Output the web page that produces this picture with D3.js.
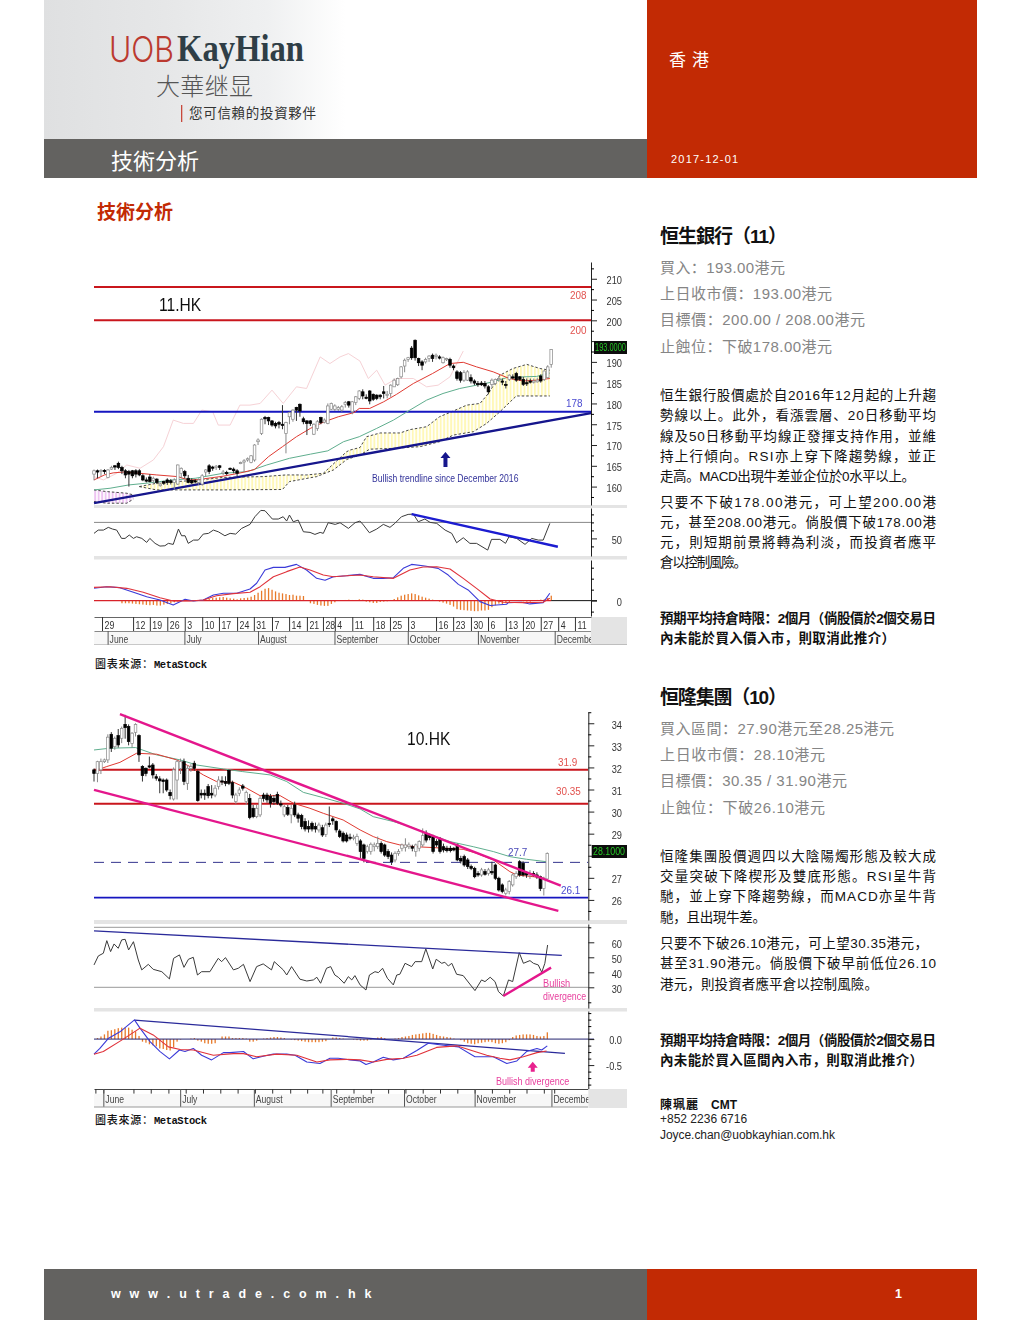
<!DOCTYPE html>
<html><head><meta charset="utf-8">
<script src="https://cdnjs.cloudflare.com/ajax/libs/d3/7.8.5/d3.min.js"></script>
<style>html,body{margin:0;padding:0;background:#fff}svg{display:block}</style></head>
<body><div id="page"></div>
<script>
// ---------- 11.HK ----------  [open, close, high, low] per trading day
const candles1=[[163,163.8,164.1,161.5],[163.8,163.5,164.1,162],[163.6,163.9,164.2,162.5],[163.9,163.6,164.2,163],[162.2,164,164.2,162],[164.2,164.6,165,164],[165,164.7,165.2,164],[165.6,164.6,166,164.2],[164.6,163.8,165,163],[163.8,162.8,164.2,162],[163.6,163,164,160],[163.8,162.6,164,162],[163.8,163,164.2,162.2],[163.8,162.8,164.2,162.5],[162.6,161.6,163,161.3],[161.6,161.4,162.2,161],[162.3,161.2,163,161],[161.5,162,162.4,160.8],[161.8,161,162,160.6],[160.2,160.6,161,160],[161.2,160.8,161.4,160.4],[161.6,161,162,160.4],[161.4,161,161.8,160.5],[161,161.6,162,159.4],[160.6,165.2,165.3,160.4],[163.2,164.4,164.6,162],[163.6,162.6,164,162],[162,161,162.8,160.8],[161.5,160.9,162,160.6],[161.4,161.2,161.8,160.8],[161,161.6,162,160.4],[160.6,162.6,163,160.2],[163.5,164,164.2,162.5],[165,163.6,165.4,163],[164.7,164.7,165,163.8],[164.8,164.9,165.2,164],[165,164.6,165.2,164],[163.2,163.5,164,162.8],[163.4,163.1,163.8,162.8],[164.4,164.2,164.6,164],[164.2,163.8,164.6,163.2],[163.8,163.2,164.2,162.5],[165.6,165.8,166,165.4],[166,166.2,166.6,163.5],[166.4,166.7,167,166],[165.8,167.4,167.6,165.6],[166.4,170,170.2,166],[170.8,171.2,171.6,170],[172.8,176.2,176.4,172.4],[176.6,176.3,177,175],[176.6,175.8,176.8,174.8],[175.8,174.8,176,174.4],[175.2,174.6,175.6,174],[175.4,175,175.8,174],[175,175,179.6,173.8],[172.8,175.4,175.6,168],[176.8,177.8,178,175],[176.2,178.4,178.6,175.6],[179,178.4,179.2,175.8],[179.8,178.2,180,176.8],[176.3,175.6,176.8,175],[175.8,175.2,176,172.4],[175.8,175.2,176,174.6],[172.6,175,175.2,172.4],[174,175.6,176,173.4],[176.6,175.4,176.8,175],[175.5,176,176.4,175.2],[175.2,179.4,180,175],[178.6,180,180.2,178.4],[178.6,179.4,179.8,178.2],[178.6,179,179.4,178.2],[178.4,179.2,179.6,178],[179.8,180.2,180.6,179],[180.4,179.6,180.6,179],[178,180.4,180.6,177.4],[180.2,181.6,181.8,179.6],[181.2,183,183.2,180.8],[182.8,181.8,183.4,181],[181.5,181.5,182.2,181],[183,180.6,183.2,179.8],[182.2,181,182.4,180.6],[182,181.2,182.2,180.8],[182,181.6,182.2,181],[182.8,182.4,184.2,181.2],[182,182.2,183,181.2],[182.4,184.4,184.6,181.6],[184,185.6,186,184],[184.5,186,186.2,184.2],[186.4,188.8,189,186],[189,190.4,190.8,187.5],[190.6,191,191.2,190],[193.3,191,193.8,190.5],[195.2,191,195.4,190.3],[190.8,189.8,191,189],[190,189.2,190.4,188],[190,190.6,191,189.6],[190.8,191.4,191.6,190],[191.6,190.8,192,190],[191.4,191.6,192,190.6],[191.2,191,191.6,190.6],[189.8,191,191.3,189.6],[190.6,190.8,191,190.2],[190.6,189.2,191,188.6],[189,188.6,189.4,188],[187.6,186,188,185.5],[187.4,185.6,187.8,185],[185.6,187.4,188,185.2],[185.6,187.6,188,185.4],[186.2,185.4,187,184.8],[185.4,184.9,185.8,184.4],[184.8,184.6,185.4,184],[184.9,184.5,185.4,184.2],[184.8,184.2,185.4,183.6],[184,182.8,184.4,182.2],[184.6,185.6,186,184],[184.8,185.8,186,184.4],[185.8,186,186.4,185.2],[185.4,185.2,186,184.4],[184.6,184.4,185.4,183.6],[185.8,186.8,187,185.4],[186.4,186.2,187,185.8],[187.2,185.6,187.6,185.2],[186.4,185.8,186.6,185.4],[185.8,184.6,186.4,184.2],[185,184.8,186,184.2],[185.4,185.2,186,184.8],[185.2,185.4,186,184.8],[185.2,185.6,186.2,185],[186.6,185.4,187,185],[185.8,187.8,188,185.4],[186.2,188.8,189.2,186],[189.4,193,193.1,188.6]];
const ma20_1=[[0,161.6],[3,162.8],[5.5,163.3],[8.5,163.5],[13,163.2],[18,162.8],[24,162.4],[27,161.6],[30,161.7],[37,162.5],[42,163.3],[46,164.1],[50,167.2],[54,169.6],[58,172],[62,174],[66,175.6],[70,176.8],[74.5,177.8],[76,178.8],[79,178.8],[83,180.4],[86.7,182.2],[91.5,184.8],[97,187.2],[102,189.6],[105.8,189.9],[109.6,188.8],[114.4,187.6],[119,186],[123,185.4],[126.8,185.6],[130.6,186]];
const ma50_1=[[0,159.2],[4.6,159.6],[10,160.4],[16,160.9],[22.7,161.6],[29,162],[37,163.2],[44,163.6],[49.5,165.2],[56,166.8],[62,167.8],[67,168.6],[71.5,170.8],[76,172],[81,174],[85.8,176],[90.5,178.4],[95.3,180.8],[100,182.4],[104.8,183.6],[109.6,184.4],[114.4,185.2],[118.2,186.2],[123,186.4],[126.8,186.5],[130.6,187.3]];
const lag1=[[0,162.4],[2.7,161.6],[6.5,163.2],[9.4,165.2],[13.2,164.4],[17,166.4],[19.9,169.6],[22.7,176],[25.6,175.2],[28.5,175.2],[30.9,178.4],[34,178],[35.6,174.8],[39,174.8],[41.8,179.6],[44.7,179.6],[47.6,180],[51,183.2],[54.2,180],[58,184],[60.9,183.6],[64.8,191.2],[67.6,189.6],[70.5,191.2],[72.9,192],[76.2,190.2],[78.6,186],[81,188],[83.4,184.4],[86.7,186],[91.5,186],[95.3,184],[98.6,184.4],[102,186.4],[105.8,192.6]];
const cloudPinkTop=[[0,159.2],[3.6,158.8],[9.4,158.4],[11.3,158]];
const cloudPinkBot=[[0,156.4],[3.6,156],[9.4,156],[11.3,157]];
const cloudTop=[[13,160],[17.9,160.8],[23.7,161.2],[30.4,161.6],[37,162.2],[48.5,162.4],[55,162.8],[61,162.8],[65.7,163.2],[72.4,168.4],[73.4,168.8],[76.2,169.4],[78.1,172],[82,172.9],[87.7,172.9],[90.5,173.7],[95.3,174.4],[99,176.8],[103,178.2],[106.8,179.6],[110.6,180],[113,182.4],[116.3,186.8],[120,188.4],[124,189.4],[127.8,188.4],[130.6,188]];
const cloudBot=[[13,160],[17.9,159.2],[23.7,159.2],[37,159.2],[54,159.3],[56,161.2],[63.8,162.4],[68.6,164],[72.4,166.5],[76.2,167.6],[79,169],[85.8,169.2],[93.4,169.6],[99,170.8],[103,172.4],[108.7,173.2],[112.5,175.2],[116.3,178],[121,181.8],[130.6,181.8]];
const trend1=[[0,156.03],[142.4,177.67]];
const levels1=[208,200,178];
const rsi1=[[0,56.3],[1.2,60.4],[2.7,60.4],[4.1,63.8],[5.3,61.7],[6.5,60.4],[7.9,50],[8.9,50],[10.1,54.2],[11.3,50],[12.2,52.1],[13.7,50],[15.1,45],[16,50],[17.5,43.8],[18.9,40.4],[20.3,40.8],[21.3,43.8],[22.7,42.5],[24.2,61.7],[25.1,53.3],[26.1,53.3],[27,43.8],[28.5,47.9],[29.9,47.9],[31.3,55.4],[32.8,56.3],[34.2,60.4],[35.6,58.3],[37.5,53.3],[39,56.3],[40.6,55.4],[42.3,62.5],[44.7,67.5],[46.1,77.1],[47.8,85],[49,84.6],[51.1,74.2],[52.8,74.2],[54.2,77.1],[55.2,71.7],[56,79.2],[57.1,70.8],[58.5,72.9],[60,58.3],[61.9,57.5],[63.3,55],[64.8,57.5],[65.7,56.3],[67.1,69.6],[69.1,67.5],[70.5,69.6],[72.9,62.5],[74.8,69.6],[76.2,71.7],[77.2,66.7],[78.9,57.1],[81,61.7],[82.9,67.5],[84.8,63.8],[86.2,68.8],[88.1,77.1],[90,80],[91.5,80.4],[92.9,70.8],[94.8,74.2],[96.3,70],[98.2,68.8],[100.6,60.4],[102.5,56.3],[103.9,44.6],[105.8,50.8],[107.7,43.8],[109.6,43.8],[112.8,35.4],[113.9,48.8],[116.3,48.8],[117.9,43.8],[118.9,52.1],[121.1,50],[123.5,42.5],[125.4,50],[127.3,47.9],[128.7,47.9],[130.6,68.8]];
const rsiTrend1=[[91,80.4],[132.9,39.6]];
const macd1=[[0,1.12],[3.6,1.27],[7.4,1.18],[11.3,.76],[15.1,.36],[18.9,.06],[22.7,-.39],[26.1,.12],[28.5,-.03],[31.3,.06],[34.2,.52],[37.1,.67],[40.9,.67],[44.7,1.06],[46.6,1.58],[49,2.79],[51.4,3.03],[54.7,3.03],[58,3.3],[60.9,2.79],[63.8,2.03],[66.2,1.85],[68.6,2.18],[72.4,2.27],[76.2,2.39],[80,2.03],[82.9,2.03],[85.8,2.09],[88.6,2.94],[91,3.3],[94.8,3.15],[98.6,2.94],[101.5,2.33],[104.4,1.48],[107.2,.97],[110.6,-.09],[113.5,-.45],[118.2,-.33],[118.7,-.18],[122.5,-.15],[124.9,-.3],[128.7,-.18],[130.6,.67]];
const signal1=[[0,1.21],[4.6,1.27],[9.4,1.12],[14.1,.76],[18.9,.27],[22.7,-.03],[27.5,-.03],[31.3,.06],[35.1,.45],[39.9,.64],[44.7,.76],[47.6,1.27],[51.4,2.18],[55.2,2.64],[59,3.06],[61.9,2.79],[65.7,2.33],[68.6,2.18],[72.4,2.27],[76.2,2.33],[80,2.18],[85.8,2.03],[90.5,2.79],[94.3,3.06],[98.2,3.09],[102,2.88],[105.8,2.03],[109.6,1.12],[113.5,.15],[117.3,-.15],[123,-.18],[128.7,-.15],[130.6,.21]];
const hist1=[0,0,0,0,.03,.03,.03,0,-.24,-.24,-.24,-.27,-.3,-.33,-.36,-.39,-.42,-.39,-.45,-.45,-.36,-.3,-.24,-.15,-.09,0,.03,0,0,0,.03,.06,.12,.18,.24,.27,.3,.33,.27,.21,.18,.12,.21,.24,.27,.36,.51,.72,.9,1.08,1.14,.99,.84,.72,.66,.6,.51,.54,.45,.45,.42,0,-.24,-.3,-.39,-.45,-.48,-.48,-.3,-.15,0,0,.06,.09,.06,.06,.12,.09,-.09,-.15,-.21,-.21,-.12,-.09,-.06,.06,.15,.3,.45,.54,.6,.66,.6,.48,.36,.27,.18,.09,0,-.09,-.18,-.27,-.39,-.54,-.78,-.84,-.87,-.9,-.93,-.96,-.96,-.9,-.9,-.84,-.6,-.42,-.27,-.3,-.24,-.12,0,.03,.03,-.06,-.09,-.09,0,.06,.09,.12,.24,.45];
const weekDays1=[2.3,11.2,16,21,26,31,35.8,41,45.8,51,55.9,61,65.6,69,74,80,84.8,90,98,102.9,108,112.9,118,122.9,128,133,137.8];
const weekLabels1=["29","12","19","26","3","10","17","24","31","7","14","21","28","4","11","18","25","3","16","23","30","6","13","20","27","4","11"];
const monthDays1=[3.9,25.9,47,68.9,89.9,110,132];
const monthLabels=["June","July","August","September","October","November","December"];

// ---------- 10.HK ----------
const candles2=[[31.89,31.73,31.95,31.36],[31.73,32.26,32.3,31.33],[31.89,32.26,32.4,31.7],[32.26,32.34,32.4,32.2],[32.34,33.37,33.5,32.2],[33.5,32.87,33.6,32.7],[32.94,33.32,33.4,32.8],[33.44,33.02,33.74,32.9],[33.32,33.77,33.85,33.1],[33.95,33.8,34.38,33.3],[33.85,33.17,33.95,33],[33.09,33.55,33.6,32.9],[33.59,33.95,34,33.4],[33.44,32.57,33.5,32.25],[32.04,31.63,32.1,31.36],[31.96,31.73,32,31.6],[32.07,32.04,32.49,31.96],[32.11,31.66,32.2,31.5],[31.58,31.51,31.7,31.4],[31.48,31.39,31.6,30.83],[31.43,31.36,31.5,30.83],[31.43,30.98,31.5,30.9],[30.87,30.72,31,30.55],[30.57,31.89,32,30.5],[31.43,32.26,32.35,30.55],[31.96,32.26,32.4,31.7],[32.26,31.36,32.4,31.2],[31.28,31.96,32.1,30.98],[31.96,32.04,32.15,31.8],[32.19,31.96,32.3,31.85],[31.81,30.5,31.9,30.45],[30.83,30.75,31,30.6],[30.83,30.75,31,30.53],[31.13,30.72,31.25,30.6],[30.83,30.75,31.2,30.6],[30.75,31.06,31.2,30.65],[31.13,31.43,31.6,31],[31.39,31.36,31.6,31.2],[31.36,31.28,31.6,31.15],[31.86,31.28,31.9,31.2],[31.31,30.75,31.4,30.6],[30.45,30.75,30.85,30.35],[30.83,30.98,31.1,30.7],[31.16,31.06,31.25,30.95],[30.45,30.87,30.95,30.3],[30.6,29.73,30.8,29.65],[30.15,29.77,30.3,29.7],[29.77,30.15,30.3,29.7],[29.85,30.6,30.7,29.75],[30.75,30.6,30.85,30.45],[30.75,30.53,30.85,30.4],[30.68,30.38,30.8,30.18],[30.6,30.45,30.75,30.3],[30.78,30.38,30.9,30.3],[30.35,30.33,30.5,30.2],[29.85,30.22,30.3,29.75],[30.18,29.88,30.3,29.8],[29.85,30.15,30.3,29.47],[30.3,29.85,30.45,29.75],[29.85,29.7,29.95,29.5],[29.82,29.32,29.9,29.2],[29.55,29.21,29.7,29.1],[29.32,29.21,29.6,29.05],[29.47,29.21,29.55,29.1],[29.32,29.21,29.5,29.05],[29.17,29.39,29.5,29.05],[29.27,28.94,29.4,28.85],[28.97,29.39,29.5,28.85],[29.47,29.46,30.23,29.3],[29.67,29.58,29.75,29.4],[29.55,29.17,29.6,29.05],[29.12,28.87,29.2,28.8],[29.02,28.67,29.1,28.6],[28.94,28.67,29.05,28.6],[28.84,28.82,29,28.7],[28.82,28.84,28.95,28.7],[28.56,28.87,29,28.45],[28.67,28.19,28.75,27.9],[28.49,27.88,28.55,27.7],[28.19,28.41,28.5,28.1],[28.19,28.52,28.6,28.05],[28.41,28.49,28.6,28.2],[28.41,28.56,28.87,28.3],[28.56,28.19,28.65,28.1],[28.49,28.03,28.55,27.95],[28.19,27.96,28.3,27.85],[28.03,27.73,28.15,27.58],[27.81,28.11,28.2,27.7],[28.11,28.19,28.3,28],[28.34,28.49,28.55,28.2],[28.37,28.49,28.79,28.19],[28.41,28.49,28.6,28.3],[28.41,28.34,28.5,28.2],[28.19,28.49,28.55,27.96],[28.34,28.64,28.7,28.2],[28.49,28.91,29.24,28.4],[29.02,28.71,29.15,28.6],[28.94,28.82,29,28.7],[28.87,28.19,28.95,28.1],[28.64,28.49,28.75,28.4],[28.79,28.19,28.85,28.1],[28.41,28.26,28.55,28.15],[28.34,28.23,28.45,28.15],[28.34,28.23,28.45,28.15],[28.34,28.26,28.4,28.2],[28.49,27.81,28.55,27.75],[27.88,27.76,28,27.65],[27.96,27.58,28.05,27.5],[27.81,27.51,27.9,27.4],[27.51,27.43,27.6,27.35],[27.43,27.05,27.5,26.98],[27.2,27.13,27.3,27.05],[27.13,27.36,27.45,27.05],[27.28,27.16,27.4,27.1],[27.2,27.36,27.45,27.1],[27.28,27.26,27.73,27.13],[27.58,26.98,27.65,26.9],[26.98,26.45,27.05,26.38],[26.68,26.38,26.75,26.3],[26.3,26.45,26.55,26.2],[26.38,26.83,26.9,26.25],[26.68,27.13,27.2,26.6],[27.05,27.2,27.3,26.95],[27.73,27.13,27.8,27.05],[27.66,27.13,27.75,27.05],[27.2,27.13,27.3,27],[27.13,27.2,27.35,26.95],[27.2,27.13,27.3,27.05],[27.13,27.05,27.25,26.95],[27.05,26.52,27.1,26.4],[26.52,26.98,27.05,26.2],[26.95,28.1,28.15,26.85]];
const ma50_2=[[0,32.79],[4.6,32.87],[12,32.9],[18,32.57],[24.9,32.34],[29.7,32.11],[37.4,31.93],[43,31.81],[50.9,31.66],[55.7,31.36],[60.5,30.87],[66.3,30.63],[72,30.38],[76.9,30.12],[80.7,29.77],[86.5,29.55],[91.3,29.32],[96.1,29.02],[102.9,28.64],[109.6,28.41],[115.4,28.19],[120.2,27.96],[125,27.84],[130.8,27.73]];
const ma20_2=[[0,31.84],[3.7,32.04],[7.5,32.23],[12.3,32.64],[18.1,32.6],[23.9,32.34],[27.7,32.04],[31.6,31.66],[35.4,31.36],[40.3,31.33],[44.1,31.06],[48,30.72],[53.8,30.72],[57.6,30.38],[62.4,30.15],[66.3,29.92],[72,29.62],[76.9,29.17],[80.7,28.87],[84.6,28.64],[88.4,28.49],[92.8,28.41],[98,28.37],[106.7,28.29],[110.6,28.11],[115.4,27.81],[120.2,27.28],[122.2,27.13],[127,27.05],[130.3,26.98]];
const channelTop=[[7.5,34.41],[134.9,26.65]];
const channelBot=[[0,30.98],[134.2,25.5]];
const levels2=[31.9,30.35,26.1];
const dashedLevel2=27.7;
const rsi2=[[0,44.9],[1.25,50.9],[2.7,52.7],[3.7,61.1],[4.8,53.8],[5.8,58.9],[7,56],[8,61.6],[9,62],[10,54.9],[11.4,60.4],[12.8,48.2],[13.8,41.6],[15.7,45.3],[17.1,42],[19.6,40.4],[21.8,35.6],[23,49.3],[24.7,51.6],[26,43.3],[27.3,48.7],[28.7,50],[29.9,38.2],[31.1,40.4],[33.5,40.4],[35.9,49.3],[36.9,47.1],[38,49.8],[40.3,41.6],[41.7,42.7],[43.2,45.3],[45.1,33.8],[47,43.8],[48.9,45.6],[51.3,41.6],[52.1,47.1],[54.7,41.6],[55.7,38.2],[57.1,43.8],[59.5,35.4],[61.5,34.2],[63.4,34.9],[64.4,36.7],[65.5,32.7],[67.2,42.7],[68.4,43.8],[69.6,38.2],[70.6,36.7],[72.3,32.7],[73.5,37.1],[74.5,34.9],[75.4,37.8],[76.9,31.6],[78.6,28.2],[79.6,38.2],[81.2,40.4],[82.2,39.8],[83.4,42.7],[84.8,36],[86.5,31.6],[87.5,38.2],[88.4,38.7],[89.9,46],[91.8,43.8],[92.8,47.1],[94.7,47.1],[95.9,55.6],[97.9,42.2],[98.9,48.7],[100.5,46],[101.4,46.7],[102.4,44.2],[103.4,46],[104.8,38.7],[106.7,37.8],[110.1,27.8],[112,34.9],[113,33.8],[114.5,36.7],[115.9,33.8],[116.9,27.1],[118.3,24.2],[119.8,34.9],[121,33.8],[122.9,53.1],[124.1,46],[126,47.8],[127,46],[128.4,44.9],[129.4,40],[130.3,46],[131.1,58.2]];
const rsiTrend2=[[0,67.6],[135.2,51.3]];
const rsiUp2=[[118.3,24.2],[132.1,43.1]];
const macd2=[[0,-.29],[1.7,-.18],[4.1,.01],[7.5,.14],[11.7,.37],[13.3,.21],[16.2,-.05],[19.1,-.24],[21.8,-.38],[24.7,-.21],[26.3,-.24],[28.7,-.18],[31.1,-.31],[34,-.4],[37.4,-.26],[39.3,-.26],[43.2,-.24],[46,-.38],[48.9,-.33],[51.8,-.29],[55.7,-.29],[58.1,-.31],[61.5,-.44],[65.3,-.47],[68.2,-.37],[70.6,-.37],[74,-.4],[76.9,-.42],[78.6,-.49],[80.7,-.44],[83.6,-.35],[86.5,-.4],[89.4,-.37],[93.3,-.22],[96.6,-.08],[101,-.12],[105.3,-.15],[110.1,-.34],[115.4,-.34],[119.3,-.47],[122.2,-.42],[125,-.24],[128,-.18],[129.4,-.21],[131,-.13]];
const signal2=[[0,-.29],[2.7,-.24],[8,-.02],[13.3,.21],[17.1,.08],[21.5,-.15],[24.9,-.2],[28.7,-.21],[34.5,-.31],[40.3,-.28],[43.2,-.28],[47,-.34],[52.8,-.29],[58.6,-.31],[64.4,-.44],[68.2,-.4],[73,-.39],[76.9,-.4],[80.7,-.44],[84.6,-.39],[89.4,-.37],[93.3,-.31],[99,-.16],[104.8,-.13],[108.7,-.21],[113.5,-.31],[117.3,-.37],[120.2,-.4],[124.1,-.34],[128,-.26],[130.8,-.23]];
const macdTrend2=[[11.7,.365],[136.1,-.276]];
const hist2=[0,.02,.05,.09,.16,.17,.19,.21,.22,.22,.22,.18,.15,.06,-.05,-.07,-.1,-.12,-.14,-.18,-.19,-.21,-.22,-.16,-.05,-.01,0,0,.01,.02,-.03,-.05,-.08,-.09,-.09,-.08,0,.05,.05,.05,.02,.02,.02,.02,.01,-.05,-.05,-.03,0,.01,.02,.03,.04,.04,.03,.02,0,-.01,-.02,-.03,-.04,-.05,-.06,-.06,-.06,-.06,-.05,-.04,0,.03,.03,.02,.01,0,0,-.01,-.02,-.03,-.03,-.03,-.01,0,.03,.04,.02,0,0,.01,.02,.04,.05,.06,.08,.09,.1,.11,.12,.12,.1,.08,.06,.05,.04,.03,.01,0,-.02,-.05,-.08,-.09,-.1,-.08,-.07,-.06,-.05,-.06,-.08,-.09,-.08,-.06,-.02,.04,.07,.08,.09,.09,.09,.08,.06,.05,.06,.13];
const weekDays2=[.4,2.7,11.4,16.4,21.5,26.5,31.5,36.5,41.5,46.5,51.5,56.7,61.6,66,70,75,80,85,90,95,100,105,110,115,120,125,130,133];
const monthDays2=[2.7,24.9,46.2,68.4,89.6,110,132.2];

// ---------- text ----------
const para1=[["恒生銀行股價處於自2016年12月起的上升趨",395,276],["勢線以上。此外，看漲雲層、20日移動平均",415,276],["線及50日移動平均線正發揮支持作用，並維",436,276],["持上行傾向。RSI亦上穿下降趨勢線，並正",456,276],["走高。MACD出現牛差並企位於0水平以上。",476,255],["只要不下破178.00港元，可上望200.00港",502,276],["元，甚至208.00港元。倘股價下破178.00港",522,276],["元，則短期前景將轉為利淡，而投資者應平",542,276],["倉以控制風險。",562,87]];
const para2=[["恒隆集團股價週四以大陰陽燭形態及較大成",856,276],["交量突破下降楔形及雙底形態。RSI呈牛背",876,276],["馳，並上穿下降趨勢線，而MACD亦呈牛背",896,276],["馳，且出現牛差。",917,106],["只要不下破26.10港元，可上望30.35港元，",943,268],["甚至31.90港元。倘股價下破早前低位26.10",963,276],["港元，則投資者應平倉以控制風險。",984,218]];
const boldLines=[["預期平均持倉時限：2個月（倘股價於2個交易日",618,276],["內未能於買入價入市，則取消此推介）",638,235],["預期平均持倉時限：2個月（倘股價於2個交易日",1040,276],["內未能於買入區間內入市，則取消此推介）",1060,263]];
const greyLines=[["買入：193.00港元",268,125],["上日收市價：193.00港元",294,172],["目標價：200.00 / 208.00港元",320,205],["止蝕位：下破178.00港元",347,172],["買入區間：27.90港元至28.25港元",729,234],["上日收市價：28.10港元",755,165],["目標價：30.35 / 31.90港元",781,187],["止蝕位：下破26.10港元",808,165]];

const CJK='"Liberation Sans","Noto Sans CJK SC",sans-serif', SANS='"Liberation Sans",Arial,sans-serif';
const svg=d3.select('#page').append('svg').attr('width',1020).attr('height',1320).attr('viewBox','0 0 1020 1320');
const defs=svg.append('defs');
function stripes(id,col,w){const p=defs.append('pattern').attr('id',id).attr('patternUnits','userSpaceOnUse').attr('width',w).attr('height',6);
  p.append('rect').attr('width',w*0.55).attr('height',6).attr('fill',col);}
stripes('hatchY','#fff8b8',3.49);stripes('hatchP','#eec4f2',3.49);
const grad=defs.append('linearGradient').attr('id','hdr');
grad.append('stop').attr('offset','0').attr('stop-color','#dfe0e1');
grad.append('stop').attr('offset','.2').attr('stop-color','#e6e7e8');
grad.append('stop').attr('offset','.37').attr('stop-color','#eff0f1');
grad.append('stop').attr('offset','.5').attr('stop-color','#ffffff');
defs.append('filter').attr('id','soft').attr('x','0').attr('y','0').attr('width','1').attr('height','1').append('feGaussianBlur').attr('stdDeviation','0.4');

function T(g,s,x,y,o={}){const t=g.append('text').attr('x',x).attr('y',y).attr('dy','.36em').text(s)
  .attr('font-family',o.f||CJK).attr('font-size',o.s||14).attr('fill',o.c||'#000').attr('font-weight',o.w||400);
  if(o.a)t.attr('text-anchor',o.a);
  if(o.ls)t.attr('letter-spacing',o.ls);
  if(o.len)t.attr('textLength',o.len).attr('lengthAdjust',o.adj||'spacing');
  return t;}
function squeeze(sel,k){sel.each(function(){const n=this.getComputedTextLength();if(n>0){this.setAttribute('textLength',n*k);this.setAttribute('lengthAdjust','spacingAndGlyphs');}});}

// ---------- page furniture ----------
svg.append('rect').attr('x',44).attr('y',0).attr('width',603).attr('height',139).attr('fill','url(#hdr)');
svg.append('rect').attr('x',44).attr('y',139).attr('width',603).attr('height',39).attr('fill','#636260');
svg.append('rect').attr('x',647).attr('y',0).attr('width',330).attr('height',178).attr('fill','#c22a04');
svg.append('rect').attr('x',44).attr('y',1269).attr('width',603).attr('height',51).attr('fill','#636260');
svg.append('rect').attr('x',647).attr('y',1269).attr('width',330).attr('height',51).attr('fill','#c22a04');
T(svg,'UOB',109,49,{f:'Inter,"Liberation Sans"',w:300,s:36,c:'#bb3a30',len:65,adj:'spacingAndGlyphs'});
T(svg,'KayHian',177,48,{f:'"Liberation Serif",serif',s:37,w:700,c:'#2f3e46',len:127,adj:'spacingAndGlyphs'});
T(svg,'大華继显',156,86,{f:'"Noto Sans CJK SC"',s:24,c:'#555',w:300,len:97});
svg.append('rect').attr('x',181).attr('y',105).attr('width',1.3).attr('height',17).attr('fill','#c8493c');
T(svg,'您可信賴的投資夥伴',189,113,{s:13.5,c:'#333',len:127});
T(svg,'技術分析',111,161,{s:22,c:'#fff',len:88});
T(svg,'香 港',669,60,{s:17,c:'#fff',len:40});
T(svg,'2017-12-01',671,159,{f:SANS,s:11,c:'#fff',ls:'1.2px'});
T(svg,'w w w . u t r a d e . c o m . h k',111,1293,{f:SANS,s:12.5,w:700,c:'#fff',ls:'1.6px',len:262});
T(svg,'1',895,1293,{f:SANS,s:12.5,w:700,c:'#fff'});
T(svg,'技術分析',97,212,{s:19,w:700,c:'#c22a04',len:76});
T(svg,'恒生銀行（11）',660,236,{s:19,w:700,c:'#111',len:127});
T(svg,'恒隆集團（10）',660,697,{s:19,w:700,c:'#111',len:127});
greyLines.forEach(d=>T(svg,d[0],660,d[1],{s:15,c:'#858585',len:d[2]}));
para1.concat(para2).forEach(d=>T(svg,d[0],660,d[1],{s:13.5,c:'#111',len:d[2]}));
boldLines.forEach(d=>T(svg,d[0],660,d[1],{s:13.5,w:700,c:'#111',len:d[2]}));
T(svg,'陳珮麗',660,1105,{s:12,w:700,c:'#111',len:38});
T(svg,'CMT',711,1105,{f:SANS,s:12,w:700,c:'#111'});
T(svg,'+852 2236 6716',660,1119,{f:SANS,s:12,c:'#222'});
T(svg,'Joyce.chan@uobkayhian.com.hk',660,1135,{f:SANS,s:12,c:'#222',len:175});
[664,1120].forEach(y=>{T(svg,'圖表來源：',95,y,{s:11,c:'#111',w:500,len:58});T(svg,'MetaStock',154,y,{f:'"Liberation Mono",monospace',s:10.5,w:700,c:'#111',len:53});});

// ---------- chart helpers ----------
function pathOf(g,data,x,y,col,w,extra={}){const l=d3.line().x(d=>x(d[0])).y(d=>y(d[1]));
  const p=g.append('path').attr('d',l(data)).attr('fill',extra.fill||'none').attr('stroke',col).attr('stroke-width',w).attr('stroke-linejoin','round');
  if(extra.dash)p.attr('stroke-dasharray',extra.dash);if(extra.op)p.attr('opacity',extra.op);return p;}
function candles(g,data,x,y,bw){
  const c=g.append('g').selectAll('g').data(data).join('g');
  c.append('line').attr('x1',(d,i)=>x(i)).attr('x2',(d,i)=>x(i)).attr('y1',d=>y(d[2])).attr('y2',d=>y(d[3]))
    .attr('stroke',d=>d[1]>d[0]?'#888':'#333').attr('stroke-width',1);
  c.append('rect').attr('x',(d,i)=>x(i)-bw/2).attr('width',bw)
    .attr('y',d=>y(Math.max(d[0],d[1]))).attr('height',d=>Math.max(1.2,Math.abs(y(d[0])-y(d[1]))))
    .attr('fill',d=>d[1]>d[0]?'#fff':'#000').attr('stroke',d=>d[1]>d[0]?'#888':'#000').attr('stroke-width',.7);
}
function hAxis(g,x0,scale,minors,majors,fmt){
  g.append('g').attr('transform',`translate(${x0},0)`).call(d3.axisRight(scale).tickValues(minors).tickSize(3).tickFormat('').tickSizeOuter(0))
    .call(a=>a.select('.domain').attr('stroke','#222'));
  const m=g.append('g').attr('transform',`translate(${x0},0)`).call(d3.axisRight(scale).tickValues(majors).tickSize(6).tickFormat(fmt).tickSizeOuter(0));
  m.select('.domain').remove();
  m.selectAll('line').attr('stroke','#222');
  const t=m.selectAll('text').attr('x',622-x0).attr('text-anchor','end').attr('dy','.44em').attr('font-family',SANS).attr('font-size',11).attr('fill','#333');
  squeeze(t,.84);
}
function bars(g,data,x,y,zero){
  g.append('g').selectAll('rect').data(data).join('rect').attr('x',(d,i)=>x(i)-.6).attr('width',1.3)
   .attr('y',d=>Math.min(y(d),zero)).attr('height',d=>Math.abs(y(d)-zero)).attr('fill','#e87a2a');
}
function band(g,x,y,w,h){g.append('rect').attr('x',x).attr('y',y).attr('width',w).attr('height',h).attr('fill','#e4e4e4');}
function arrow(g,x,yTop,yBot,col){
  g.append('path').attr('d',d3.line()([[x,yTop],[x+5,yTop+6],[x+2,yTop+6],[x+2,yBot],[x-2,yBot],[x-2,yTop+6],[x-5,yTop+6]])+'Z').attr('fill',col);
}
function lab(g,s,x,y,c,sz,k){return squeeze(T(g,s,x,y,{f:SANS,s:sz||11,c}),k||.9);}

// ---------- chart 1 ----------
{
const g=svg.append('g').attr('filter','url(#soft)');
const x=d3.scaleLinear().domain([0,142.4]).range([94,591]);
const y=d3.scaleLinear().domain([155.57,214.03]).range([505,262]);
const yR=d3.scaleLinear().domain([28,88]).range([556,508]);
const yM=d3.scaleLinear().domain([-1.4,3.7]).range([616,560]);
g.append('rect').attr('x',94).attr('y',255).attr('width',533).attr('height',390).attr('fill','#fff');
const area=(top,bot,fill)=>g.append('path').attr('d',d3.line().x(d=>x(d[0])).y(d=>y(d[1]))(top.concat(bot.slice().reverse()))+'Z').attr('fill',fill);
area(cloudPinkTop,cloudPinkBot,'url(#hatchP)');
area(cloudTop,cloudBot,'url(#hatchY)');
[cloudPinkTop,cloudPinkBot,cloudTop,cloudBot].forEach(c=>pathOf(g,c,x,y,'#333',.9,{dash:'2.5,2'}));
pathOf(g,lag1,x,y,'#f6d2d6',1);
levels1.forEach((v,i)=>g.append('line').attr('x1',94).attr('x2',591).attr('y1',y(v)).attr('y2',y(v)).attr('stroke',i<2?'#c9161e':'#1515c0').attr('stroke-width',2));
pathOf(g,trend1,x,y,'#14148c',2.4);
pathOf(g,ma50_1,x,y,'#5fae8e',1);
pathOf(g,ma20_1,x,y,'#e03a32',1);
candles(g,candles1,x,y,2.6);
band(g,94,505,533,3);band(g,94,556,533,3.5);
hAxis(g,591,y,d3.range(157.5,214,5),[160,165,170,175,180,185,190,195,200,205,210],d=>d===195?'':d);
g.append('rect').attr('x',594).attr('y',341).attr('width',33).attr('height',13).attr('fill','#0a0a0a');
T(g,'193.0000',595,347.5,{f:SANS,s:10.5,c:'#28c828',len:31,adj:'spacingAndGlyphs'});
lab(g,'208',570,295,'#e2524e');lab(g,'200',570,330,'#e2524e');lab(g,'178',566,403,'#4a4ad0');
lab(g,'11.HK',159,304,'#111',19,.82);
lab(g,'Bullish trendline since December 2016',372,478,'#33339a',11,.78);
arrow(g,x(100.7),y(168.3),y(164.7),'#14148c');
// RSI
g.append('line').attr('x1',94).attr('x2',591).attr('y1',yR(70)).attr('y2',yR(70)).attr('stroke','#888');
pathOf(g,rsi1,x,yR,'#3a3a3a',1);
pathOf(g,rsiTrend1,x,yR,'#1a1ad0',2.4);
hAxis(g,591,yR,[40,60,70,80],[50],d=>d);
// MACD
const z=yM(0);
bars(g,hist1,x,yM,z);
g.append('line').attr('x1',94).attr('x2',x(131)).attr('y1',z).attr('y2',z).attr('stroke','#d8242a').attr('stroke-width',1.4);
g.append('line').attr('x1',x(131)).attr('x2',597).attr('y1',z).attr('y2',z).attr('stroke','#111');
pathOf(g,macd1,x,yM,'#3a3ad8',1.1);
pathOf(g,signal1,x,yM,'#e0323a',1.1);
hAxis(g,591,yM,[-1,1,2,3],[0],d=>d);
// date rows
band(g,591,617,36,28);
g.append('rect').attr('x',94).attr('y',631).attr('width',497).attr('height',14).attr('fill','#f7f7f7');
const wk=g.append('g').attr('transform','translate(0,617)').call(d3.axisBottom(x).tickValues(weekDays1).tickSize(14).tickSizeOuter(0).tickFormat((d,i)=>weekLabels1[i]));
wk.select('.domain').attr('stroke','#666');wk.selectAll('line').attr('stroke','#333');
squeeze(wk.selectAll('text').attr('x',2).attr('text-anchor','start').attr('y',3).attr('dy','.8em').attr('font-family',SANS).attr('font-size',11).attr('fill','#333'),.8);
const mo=g.append('g').attr('transform','translate(0,631)').call(d3.axisBottom(x).tickValues(monthDays1).tickSize(14).tickSizeOuter(0).tickFormat((d,i)=>monthLabels[i]));
mo.select('.domain').attr('stroke','#888');mo.selectAll('line').attr('stroke','#555');
squeeze(mo.selectAll('text').attr('x',1.5).attr('text-anchor','start').attr('y',3).attr('dy','.8em').attr('font-family',SANS).attr('font-size',11).attr('fill','#444'),.78);
g.append('rect').attr('x',591).attr('y',631).attr('width',36).attr('height',14).attr('fill','#e4e4e4');
g.append('line').attr('x1',94).attr('x2',627).attr('y1',645).attr('y2',645).attr('stroke','#999');
}

// ---------- chart 2 ----------
{
const g=svg.append('g').attr('filter','url(#soft)');
const x=d3.scaleLinear().domain([0,142.77]).range([94,588]);
const y=d3.scaleLinear().domain([25.09,34.51]).range([920,712]);
const yR=d3.scaleLinear().domain([16.2,72.2]).range([1008,924]);
const yM=d3.scaleLinear().domain([-.96,.54]).range([1089,1011]);
g.append('rect').attr('x',94).attr('y',705).attr('width',533).attr('height',404).attr('fill','#fff');
levels2.forEach((v,i)=>g.append('line').attr('x1',94).attr('x2',588).attr('y1',y(v)).attr('y2',y(v)).attr('stroke',i<2?'#c9161e':'#1515c0').attr('stroke-width',i<2?2:1.8));
g.append('line').attr('x1',94).attr('x2',588).attr('y1',y(dashedLevel2)).attr('y2',y(dashedLevel2)).attr('stroke','#33338e').attr('stroke-width',1).attr('stroke-dasharray','10,7');
pathOf(g,ma50_2,x,y,'#5fae8e',1);
pathOf(g,ma20_2,x,y,'#e03a32',1);
candles(g,candles2,x,y,2.6);
pathOf(g,channelTop,x,y,'#e4188c',2.4);
pathOf(g,channelBot,x,y,'#e4188c',2.4);
band(g,94,920,533,4);band(g,94,1008,533,3.5);
hAxis(g,588.3,y,d3.range(25.5,34.6,1),[26,27,28,29,30,31,32,33,34],d=>d===28?'':d);
g.append('rect').attr('x',591.7).attr('y',845).attr('width',35.3).attr('height',13).attr('fill','#0a0a0a');
T(g,'28.1000',593,851.5,{f:SANS,s:10.5,c:'#28c828',len:32,adj:'spacingAndGlyphs'});
lab(g,'31.9',558,762,'#e2524e');lab(g,'30.35',556,791,'#e2524e');lab(g,'27.7',508,852,'#4a4ab8');lab(g,'26.1',561,890,'#4a4ad0');
lab(g,'10.HK',407,738,'#111',19,.82);
// RSI
[30,70].forEach(v=>g.append('line').attr('x1',94).attr('x2',588).attr('y1',yR(v)).attr('y2',yR(v)).attr('stroke','#999'));
pathOf(g,rsi2,x,yR,'#3a3a3a',1);
pathOf(g,rsiTrend2,x,yR,'#2a2a9a',1.4);
pathOf(g,rsiUp2,x,yR,'#e4188c',2.4);
hAxis(g,588.3,yR,[20,70],[30,40,50,60],d=>d);
lab(g,'Bullish',543,983,'#e8409e',11,.84);lab(g,'divergence',543,996,'#e8409e',11,.8);
// MACD
const z=yM(0);
bars(g,hist2,x,yM,z);
g.append('line').attr('x1',94).attr('x2',594).attr('y1',z).attr('y2',z).attr('stroke','#24246e').attr('stroke-width',1);
pathOf(g,macdTrend2,x,yM,'#2a2a9a',1.3);
pathOf(g,macd2,x,yM,'#3a3ad8',1.1);
pathOf(g,signal2,x,yM,'#e0323a',1.1);
hAxis(g,588.3,yM,[-.875,-.75,-.625,-.375,-.25,-.125,.125,.25,.375,.5],[0,-.5],d=>d.toFixed(1));
lab(g,'Bullish divergence',496,1081,'#e8409e',11,.82);
arrow(g,x(126.8),yM(-.437),yM(-.63),'#e8218e');
// date rows
g.append('rect').attr('x',94).attr('y',1094).attr('width',494).attr('height',13).attr('fill','#f7f7f7');
const wk=g.append('g').attr('transform','translate(0,1089)').call(d3.axisBottom(x).tickValues(weekDays2).tickSize(4.6).tickSizeOuter(0).tickFormat(''));
wk.select('.domain').attr('stroke','#444');wk.selectAll('line').attr('stroke','#333');
const mo=g.append('g').attr('transform','translate(0,1089)').call(d3.axisBottom(x).tickValues(monthDays2).tickSize(18).tickSizeOuter(0).tickFormat((d,i)=>monthLabels[i]));
mo.select('.domain').remove();mo.selectAll('line').attr('stroke','#555');
squeeze(mo.selectAll('text').attr('x',1.5).attr('text-anchor','start').attr('y',5.5).attr('dy','.8em').attr('font-family',SANS).attr('font-size',11).attr('fill','#444'),.78);
band(g,588.3,1089,38.7,19);
g.append('line').attr('x1',94).attr('x2',588).attr('y1',1107).attr('y2',1107).attr('stroke','#999');
}
</script></body></html>
